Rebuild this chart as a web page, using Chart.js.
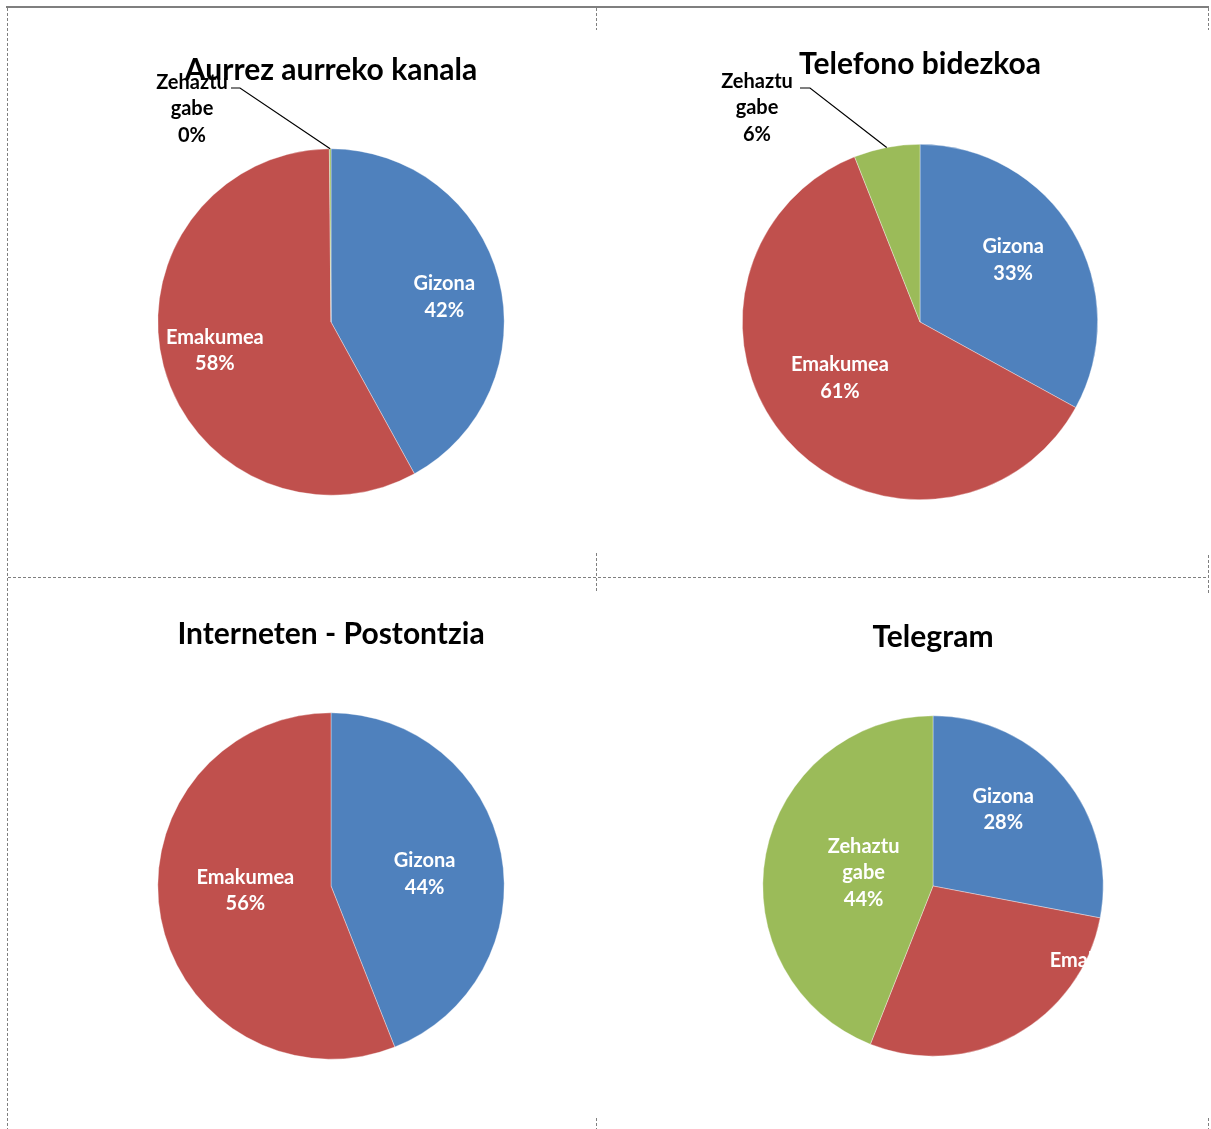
<!DOCTYPE html>
<html>
<head>
<meta charset="utf-8">
<script src="https://cdn.jsdelivr.net/npm/chart.js@4.4.0/dist/chart.umd.min.js"></script>
<style>
    body { margin: 0; background: #fff; }
    #page { position: relative; width: 1211px; height: 1129px; overflow: hidden; }
    .cell { position: absolute; }
    .solid { position: absolute; background: #7f7f7f; }
    .dash-h { position: absolute; height: 1px;
        background: repeating-linear-gradient(to right, #808080 0 3px, transparent 3px 5px); }
    .dash-v { position: absolute; width: 1px;
        background: repeating-linear-gradient(to bottom, #808080 0 3px, transparent 3px 5px); }
</style>
</head>
<body>
<div id="page">
    <div class="solid" style="left:6px;top:6px;width:1203px;height:2px"></div>
    <div class="dash-v" style="left:7px;top:8px;height:1121px"></div>
    <div class="dash-h" style="left:8px;top:577px;width:1200px"></div>
    <div class="dash-v" style="left:596px;top:8px;height:22px"></div>
    <div class="dash-v" style="left:596px;top:553px;height:40px"></div>
    <div class="dash-v" style="left:596px;top:1118px;height:11px"></div>
    <div class="dash-v" style="left:1208px;top:8px;height:22px"></div>
    <div class="dash-v" style="left:1208px;top:555px;height:40px"></div>
    <div class="dash-v" style="left:1208px;top:1118px;height:11px"></div>
</div>
<script>
const categories = ["Gizona", "Emakumea", "Zehaztu gabe"];
const titles = ["Aurrez aurreko kanala", "Telefono bidezkoa", "Interneten - Postontzia", "Telegram"];

const aurrezValues = [42, 57.85, 0.15];
const telefonoValues = [33, 61, 6];
const internetValues = [44, 56, 0];
const telegramValues = [28, 28, 44];

const colors = ["#4F81BD", "#C0504D", "#9BBB59"];

// where each chart sits on the page and where its labels go
// (inside labels: f = share of radius, a = direction in degrees clockwise from top)
const layouts = [
    { cell: [8, 8, 588, 568], cx: 331, cy: 322, r: 173.5, titleY: 70,
      labels: [{ f: 0.67, a: 77.5 }, { f: 0.69, a: 256.3 },
               { out: [-139, -213], lead: [[-100, -234], [-91, -234]] }] },
    { cell: [597, 8, 611, 568], cx: 920, cy: 322, r: 178, titleY: 64,
      labels: [{ f: 0.63, a: 56.3 }, { f: 0.55, a: 235 },
               { out: [-163, -214], lead: [[-120, -234], [-110, -234]] }] },
    { cell: [8, 578, 588, 551], cx: 331, cy: 886, r: 173.5, titleY: 634,
      labels: [{ f: 0.545, a: 82.6 }, { f: 0.495, a: 267 }, null] },
    { cell: [597, 578, 611, 551], cx: 933, cy: 886, r: 170.5, titleY: 637,
      labels: [{ f: 0.61, a: 42.6 }, { f: 1.1, a: 117.8 }, { f: 0.415, a: 280.7 }] }
];

const allValues = [aurrezValues, telefonoValues, internetValues, telegramValues];

const FONT = "Lato";
const TITLE_SIZE = 30;
const LABEL_SIZE = 20;
const LINE_H = 26.5;

const pieLabels = {
    id: "pieLabels",
    afterDatasetsDraw(chart, args, opts) {
        const ctx = chart.ctx;
        const meta = chart.getDatasetMeta(0);
        const values = chart.data.datasets[0].data;
        const total = values.reduce((a, b) => a + b, 0);

        ctx.save();
        ctx.font = "bold " + LABEL_SIZE + "px " + FONT;
        ctx.textAlign = "center";
        ctx.textBaseline = "middle";

        meta.data.forEach((arc, i) => {
            const spec = opts.specs[i];
            if (!spec) return;
            const p = arc.getProps(["x", "y", "startAngle", "endAngle", "outerRadius"], true);
            const mid = (p.startAngle + p.endAngle) / 2;
            const lines = chart.data.labels[i].split(" ");
            lines.push(Math.round(values[i] / total * 100) + "%");

            let tx, ty;
            if (spec.out) {
                tx = p.x + spec.out[0];
                ty = p.y + spec.out[1];
                ctx.strokeStyle = "#000";
                ctx.lineWidth = 1.2;
                ctx.beginPath();
                ctx.moveTo(p.x + spec.lead[0][0], p.y + spec.lead[0][1]);
                ctx.lineTo(p.x + spec.lead[1][0], p.y + spec.lead[1][1]);
                ctx.lineTo(p.x + Math.cos(mid) * p.outerRadius, p.y + Math.sin(mid) * p.outerRadius);
                ctx.stroke();
                ctx.fillStyle = "#000";
            } else {
                const ang = spec.a !== undefined ? spec.a * Math.PI / 180 - Math.PI / 2 : mid;
                tx = p.x + Math.cos(ang) * spec.f * p.outerRadius;
                ty = p.y + Math.sin(ang) * spec.f * p.outerRadius;
                ctx.fillStyle = "#fff";
            }

            const top = ty - (lines.length - 1) * LINE_H / 2;
            lines.forEach((line, k) => ctx.fillText(line, tx, top + k * LINE_H));
        });
        ctx.restore();
    }
};

const page = document.getElementById("page");

layouts.forEach((lay, n) => {
    const [left, top, width, height] = lay.cell;
    const box = document.createElement("div");
    box.className = "cell";
    box.style.left = left + "px";
    box.style.top = top + "px";
    box.style.width = width + "px";
    box.style.height = height + "px";
    const canvas = document.createElement("canvas");
    canvas.width = width;
    canvas.height = height;
    canvas.style.width = width + "px";
    canvas.style.height = height + "px";
    box.appendChild(canvas);
    page.appendChild(box);

    const titleH = TITLE_SIZE * 1.2;
    const padTop = lay.titleY - top - titleH / 2;
    const padBottom = (lay.cy - lay.r) - top - padTop - titleH;

    new Chart(canvas, {
        type: "pie",
        data: {
            labels: categories,
            datasets: [{
                data: allValues[n],
                backgroundColor: colors,
                borderColor: "rgba(255,255,255,0.6)",
                borderWidth: 0.6
            }]
        },
        options: {
            responsive: false,
            animation: false,
            layout: {
                padding: {
                    left: lay.cx - lay.r - left,
                    right: left + width - (lay.cx + lay.r),
                    top: 0,
                    bottom: top + height - (lay.cy + lay.r)
                }
            },
            plugins: {
                legend: { display: false },
                tooltip: { enabled: false },
                title: {
                    display: true,
                    text: titles[n],
                    color: "#000",
                    font: { family: FONT, size: TITLE_SIZE, weight: "bold" },
                    padding: { top: padTop, bottom: padBottom }
                },
                pieLabels: { specs: lay.labels }
            }
        },
        plugins: [pieLabels]
    });
});
</script>
</body>
</html>
